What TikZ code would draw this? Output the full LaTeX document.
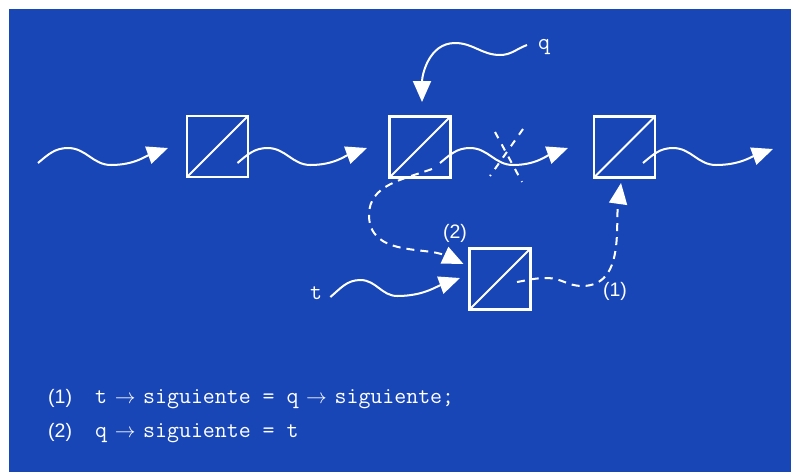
\documentclass[tikz,border=0pt]{standalone}
\usepackage{fontspec}
\setsansfont{Liberation Sans}
\usetikzlibrary{arrows.meta,calc}
\definecolor{slideblue}{RGB}{24,70,183}
% arrow set in one monospace slot
\newcommand\linkarrow{\makebox[0.525em]{\fontsize{21}{21}\selectfont$\rightarrow$}}
\tikzset{
  cell/.style={draw=white, line width=2.5pt, minimum size=61pt, inner sep=0pt, outer sep=0pt},
  link/.style={draw=white, line width=2pt, -{Triangle[length=21pt,width=18pt]}},
  newlink/.style={link, dash pattern=on 8pt off 6pt},
  cut/.style={draw=white, line width=2pt, dash pattern=on 7pt off 7pt},
  lbl/.style={text=white, font=\sffamily\fontsize{19.5}{19.5}\selectfont, inner sep=0pt},
  var/.style={text=white, font=\ttfamily\fontsize{23.2}{23.2}\selectfont, inner sep=0pt},
}
\begin{document}
\begin{tikzpicture}[x=1pt,y=-1pt]
\useasboundingbox (0,0) rectangle (791,472);
\fill[slideblue] (9,9) rectangle (791,472);

% list cells
\node[cell] (b1) at (217.5,146.5) {};
\node[cell] (b2) at (420,147) {};
\node[cell] (b3) at (624.5,147) {};
\node[cell] (b4) at (500,279) {};
\foreach \b in {b1,b2,b3,b4}
  \draw[white, line width=2pt] (\b.south west) -- (\b.north east);

% pointer labels
\node[var, anchor=base west] (q) at (538,49) {q};
\node[var, anchor=base west] (t) at (310,299) {t};
\node[lbl] (l2) at (455,233) {(2)};
\node[lbl] (l1) at (615,291) {(1)};

% free ends of the list
\coordinate (head) at (38,163);
\coordinate (tail) at (773,149);

% existing links
\draw[link] (head) to[out=40,in=180] ++(30,-15) to[out=0,in=180] ++(43,17)
  to[out=0,in=200] ($(b1.west)+(-19,1.5)$);
\draw[link] ($(b1.center)+(20,16.5)$) to[out=40,in=180] ++(30,-15) to[out=0,in=180] ++(43,17)
  to[out=0,in=200] ($(b2.west)+(-22.5,1)$);
\draw[link] ($(b2.center)+(20,16)$) to[out=40,in=180] ++(30,-15) to[out=0,in=180] ++(43,17)
  to[out=0,in=200] ($(b3.west)+(-26,1)$);
\draw[link] ($(b3.center)+(18.5,16)$) to[out=40,in=180] ++(30,-15) to[out=0,in=180] ++(43,17)
  to[out=0,in=200] (tail);

% pointer q
\draw[link] ($(q.base west)+(-11,-4)$) to[out=200,in=0] ++(-27,10) to[out=180,in=0] ++(-45,-12)
  to[out=180,in=90] ($(b2.north)+(2,-14.5)$);

% pointer t
\draw[link] ($(t.base east)+(8,-2)$) to[out=40,in=180] ++(30,-17) to[out=0,in=180] ++(37,16)
  to[out=0,in=200] ($(b4.west)+(-9.5,-1)$);

% broken link
\draw[cut] (495,132) -- (522,182);
\draw[cut] (523,129) -- (490,176);

% new links
\draw[newlink] ($(b2.center)+(12,22)$) to[out=200,in=90] (369,215)
  to[out=-90,in=155] ($(b4.west)+(-6,-15)$);
\draw[newlink] ($(b4.center)+(17,3)$) to[out=10,in=180] (547,278) to[out=0,in=180] (582,286)
  to[out=0,in=-98] ($(b3.south)+(-3.5,5.5)$);

% code
\node[lbl, anchor=base west] (n1) at (48,403) {(1)};
\node[var, anchor=base west] (c1) at (95,403) {t \linkarrow{} siguiente = q \linkarrow{} siguiente;};
\node[lbl, anchor=base west] (n2) at (48,437) {(2)};
\node[var, anchor=base west] (c2) at (95,437) {q \linkarrow{} siguiente = t};
\end{tikzpicture}
\end{document}
